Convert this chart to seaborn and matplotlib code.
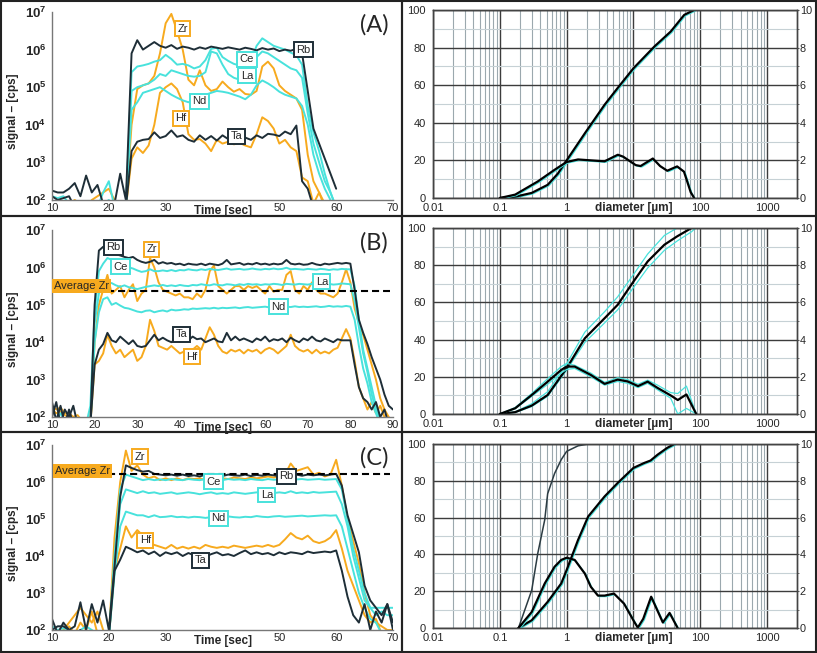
import numpy as np
import pandas as pd
import matplotlib
matplotlib.use("Agg")
import matplotlib.pyplot as plt
import matplotlib.ticker as mticker
import matplotlib.transforms as mtrans
from matplotlib.patches import Rectangle
import seaborn as sns

# ---------------- signal data (log10 of cps, 1 s steps) ----------------
a_time = list(range(10, 61))
a_rb = [2.25, 2.2, 2.2, 2.3, 2.45, 2.1, 2.65, 2.2, 2.4, 1.9, 1.8, 1.9, 2.7, 2.0,
        5.9, 6.25, 6.0, 6.1, 6.2, 6.1, 6.05, 6.12, 6.02, 6.08,
        6.05, 6.0, 6.06, 6.02, 6.08, 6.05, 6.02, 6.06, 6.03, 6.0,
        6.05, 6.02, 5.98, 6.04, 6.0, 6.03, 5.96, 6.0, 5.97, 6.02,
        5.9, 4.9, 3.9, 3.5, 3.1, 2.7, 2.3]
a_ta = [2.1, 2.0, 2.05, 2.1, 1.8, 1.8, 1.8, 1.8, 1.8, 1.8, 1.8, 1.8, 1.8, 1.8,
        3.3, 3.55, 3.6, 3.62, 3.8, 3.65, 3.7, 3.85, 3.68, 3.72,
        3.6, 3.55, 3.72, 3.6, 3.7, 3.58, 3.72, 3.62, 3.7, 3.65,
        3.66, 3.6, 3.72, 3.65, 3.76, 3.74, 3.7, 3.82, 3.75, 3.98,
        2.5, 2.3, 1.8, 1.8, 1.8, 1.8, 1.8]
a_zr = [1.8, 1.8, 1.8, 1.9, 2.0, 1.9, 1.8, 2.0, 2.1, 2.2, 2.3, 2.0, 1.8, 1.8,
        4.0, 4.95, 5.05, 5.1, 5.3, 5.9, 6.7, 6.95, 6.5, 6.0,
        5.2, 5.05, 5.45, 5.05, 4.9, 4.95, 5.15, 5.0, 4.88, 4.95,
        4.82, 4.8, 4.9, 5.55, 5.68, 5.5, 5.05, 4.9, 4.8, 4.7,
        4.4, 3.2, 2.5, 2.2, 1.9, 1.8, 1.8]
a_hf = [1.8, 1.8, 1.8, 1.8, 1.8, 1.8, 1.8, 1.8, 1.8, 1.8, 1.8, 1.8, 1.8, 1.8,
        3.1, 3.4, 3.25, 3.45, 4.0, 4.85, 5.0, 5.1, 4.95, 4.6,
        3.75, 3.6, 3.62, 3.5, 3.3, 3.6, 3.5, 3.55, 3.48, 3.52,
        3.45, 3.4, 3.75, 4.2, 4.1, 3.9, 3.5, 3.6, 3.4, 3.3,
        2.6, 2.5, 1.9, 2.2, 1.8, 1.8, 1.8]
a_ce = [2.1, 2.05, 2.1, 1.9, 1.8, 1.8, 1.9, 1.8, 1.8, 2.2, 2.5, 1.8, 1.8, 1.8,
        5.4, 5.55, 5.58, 5.62, 5.68, 5.72, 5.86, 5.75, 5.6, 5.62,
        5.58, 5.5, 5.55, 5.72, 6.02, 6.05, 5.8, 5.7, 5.62, 5.58,
        5.6, 5.7, 6.1, 6.3, 6.2, 6.1, 6.05, 6.0, 5.92, 5.85,
        5.6, 4.5, 3.8, 3.3, 2.7, 2.2, 1.8]
a_la = [1.9, 1.9, 1.85, 1.8, 1.8, 1.8, 1.8, 1.8, 1.8, 1.9, 2.0, 1.8, 1.8, 1.8,
        4.9, 5.0, 5.05, 5.1, 5.2, 5.35, 5.3, 5.45, 5.4, 5.35,
        5.3, 5.28, 5.3, 5.4, 5.95, 5.9, 5.6, 5.35, 5.25, 5.2,
        5.25, 5.4, 5.8, 5.95, 5.9, 5.8, 5.7, 5.6, 5.5, 5.45,
        5.25, 4.3, 3.5, 3.0, 2.5, 2.2, 1.8]
a_nd = [1.8, 1.8, 1.8, 1.8, 1.8, 1.8, 1.8, 1.8, 1.8, 1.8, 1.8, 1.8, 1.8, 1.8,
        4.4, 4.6, 4.85, 4.9, 4.95, 5.0, 4.9, 4.8, 4.72, 4.65,
        4.6, 4.66, 4.75, 4.8, 4.85, 4.9, 4.88, 4.85, 4.8, 4.75,
        4.68, 4.8, 5.05, 5.18, 5.1, 5.0, 4.88, 4.8, 4.75, 4.7,
        4.5, 4.0, 3.2, 2.7, 2.3, 2.0, 1.8]

b_time = list(range(10, 91))
b_rb = [2.4, 1.9, 2.3, 1.8, 2.2, 1.8, 1.8, 1.8, 1.8, 1.8,
        5.0, 6.45, 6.55, 6.45, 6.4, 6.35, 6.32, 6.28, 6.25, 6.28,
        6.2, 6.15, 6.12, 6.15, 6.2, 6.1, 6.14, 6.1, 6.12, 6.08,
        6.1, 6.06, 6.1, 6.08, 6.07, 6.1, 6.06, 6.1, 6.08, 6.06,
        6.1, 6.2, 6.08, 6.1, 6.12, 6.07, 6.1, 6.08, 6.12, 6.08,
        6.1, 6.07, 6.1, 6.08, 6.1, 6.2, 6.1, 6.08, 6.1, 6.07,
        6.08, 6.12, 6.08, 6.06, 6.1, 6.08, 6.1, 6.12, 6.1, 6.12,
        6.1, 5.4, 4.6, 4.25, 3.95, 3.6, 3.3, 3.0, 2.6, 2.3, 2.2]
b_ta = [2.0, 2.4, 1.8, 2.2, 2.0, 2.3, 1.8, 1.8, 1.8, 1.8,
        3.4, 3.8, 3.95, 4.25, 4.05, 4.0, 4.15, 4.05, 3.95, 4.05,
        3.9, 3.87, 3.9, 4.05, 4.2, 4.05, 4.12, 4.05, 4.0, 4.08,
        4.02, 4.1, 4.05, 4.15, 4.08, 4.1, 4.0, 4.05, 4.1, 4.02,
        4.0, 4.25, 4.05, 4.15, 4.05, 4.1, 4.05, 4.0, 4.1, 4.05,
        4.15, 4.02, 4.08, 4.05, 4.1, 4.0, 4.12, 4.05, 4.0, 4.1,
        4.05, 4.15, 4.05, 4.02, 4.1, 4.05, 4.0, 4.08, 4.05, 4.05,
        4.05, 3.4, 2.8, 2.5, 2.4, 2.2, 2.4, 2.0, 2.2, 1.8, 1.8]
b_zr = [2.3, 2.2, 2.25, 2.1, 2.1, 2.0, 2.05, 1.9, 1.9, 1.8,
        4.0, 5.0, 5.4, 5.8, 5.3, 5.4, 5.5, 5.2, 5.4, 5.55,
        5.1, 5.3, 5.4, 6.25, 6.0, 5.6, 5.4, 5.35, 5.3, 5.25,
        5.3, 5.2, 5.2, 5.15, 5.3, 5.2, 5.4, 5.9, 6.05, 5.5,
        5.4, 5.3, 5.4, 5.5, 5.5, 5.4, 5.5, 5.45, 5.5, 5.4,
        5.3, 5.5, 5.35, 5.4, 5.4, 5.8, 5.9, 5.4, 5.3, 5.5,
        5.4, 5.6, 5.4, 5.3, 5.3, 5.25, 5.2, 5.3, 5.6, 5.95,
        5.6, 4.9, 4.5, 4.2, 3.8, 3.4, 3.0, 2.5, 2.2, 2.0, 1.8]
b_hf = [2.2, 2.1, 2.15, 2.05, 2.0, 2.0, 1.95, 1.9, 1.85, 1.8,
        3.4, 3.5, 3.7, 4.2, 3.9, 3.7, 3.8, 3.6, 3.7, 3.8,
        3.5, 3.6, 3.9, 4.6, 4.3, 3.9, 3.85, 3.8, 3.9, 3.8,
        3.7, 3.75, 3.7, 3.8, 3.9, 3.8, 4.1, 4.4, 4.2, 3.9,
        3.75, 3.7, 3.8, 3.75, 3.8, 3.7, 3.8, 3.75, 3.8, 3.7,
        3.8, 3.85, 3.8, 3.7, 3.8, 3.9, 4.2, 3.9, 3.8, 3.75,
        3.8, 3.7, 3.8, 3.7, 3.75, 3.7, 3.8, 3.85, 4.1, 4.35,
        4.1, 3.5, 2.8, 2.5, 2.2, 2.4, 2.1, 2.3, 2.0, 1.8, 1.8]
b_ce = [1.8, 1.9, 2.1, 1.9, 2.0, 1.8, 1.8, 1.8, 1.8, 2.3,
        4.8, 5.9, 6.1, 6.25, 6.2, 6.15, 6.1, 6.02, 6.0, 5.97,
        5.92, 5.88, 5.9, 5.95, 5.9, 5.9, 5.92, 5.9, 5.93, 5.9,
        5.93, 5.92, 5.95, 5.93, 5.92, 5.95, 5.93, 5.96, 5.94, 5.93,
        5.95, 5.97, 5.94, 5.95, 5.96, 5.94, 5.95, 5.97, 5.95, 5.94,
        5.96, 5.95, 5.97, 5.95, 5.96, 5.99, 5.95, 5.96, 5.95, 5.94,
        5.96, 5.95, 5.94, 5.96, 5.95, 5.93, 5.95, 5.94, 5.96, 5.95,
        5.95, 5.5, 4.6, 3.8, 3.3, 2.8, 2.3, 2.0, 1.8, 1.8, 1.8]
b_la = [1.8, 1.8, 1.8, 1.8, 1.8, 1.8, 1.8, 1.8, 1.8, 1.8,
        4.5, 5.3, 5.5, 5.6, 5.58, 5.52, 5.48, 5.52, 5.47, 5.45,
        5.42, 5.45, 5.48, 5.5, 5.52, 5.5, 5.53, 5.5, 5.52, 5.5,
        5.53, 5.51, 5.5, 5.53, 5.52, 5.55, 5.53, 5.52, 5.55, 5.53,
        5.52, 5.55, 5.54, 5.52, 5.55, 5.53, 5.56, 5.54, 5.55, 5.53,
        5.55, 5.54, 5.56, 5.55, 5.53, 5.56, 5.55, 5.54, 5.56, 5.55,
        5.54, 5.56, 5.55, 5.53, 5.55, 5.56, 5.54, 5.55, 5.57, 5.56,
        5.55, 5.1, 4.4, 3.7, 3.2, 2.6, 2.2, 1.9, 1.8, 1.8, 1.8]
b_nd = [1.8, 1.8, 1.8, 1.8, 1.8, 1.8, 1.8, 1.8, 1.8, 1.8,
        4.0, 4.8, 5.15, 5.2, 5.0, 5.05, 4.98, 4.92, 4.9, 4.86,
        4.82, 4.8, 4.84, 4.85, 4.8, 4.83, 4.85, 4.82, 4.87, 4.85,
        4.86, 4.88, 4.87, 4.9, 4.89, 4.9, 4.91, 4.9, 4.92, 4.9,
        4.92, 4.91, 4.92, 4.93, 4.91, 4.93, 4.94, 4.92, 4.93, 4.94,
        4.95, 4.93, 4.94, 4.95, 4.93, 4.95, 4.94, 4.96, 4.94, 4.95,
        4.94, 4.95, 4.96, 4.94, 4.95, 4.97, 4.95, 4.96, 4.95, 4.97,
        4.95, 4.6, 3.9, 3.3, 2.9, 2.4, 2.1, 1.8, 1.8, 1.8, 1.8]

c_time = list(range(10, 71))
c_rb = [2.3, 1.9, 2.2, 2.0, 2.1, 2.75, 2.0, 2.7, 2.2, 2.8,
        2.0, 3.7, 5.6, 6.45, 6.38, 6.32, 6.28, 6.3, 6.22, 6.2,
        6.18, 6.2, 6.17, 6.2, 6.16, 6.18, 6.15, 6.2, 6.17, 6.19,
        6.16, 6.2, 6.18, 6.17, 6.2, 6.16, 6.19, 6.17, 6.2, 6.18,
        6.16, 6.2, 6.18, 6.2, 6.17, 6.2, 6.18, 6.2, 6.18, 6.2,
        6.22, 5.9, 5.1, 4.6, 4.1, 3.2, 2.8, 2.6, 2.4, 2.7, 2.2]
c_ta = [2.0, 2.1, 2.1, 2.0, 1.9, 2.0, 1.8, 1.8, 1.8, 1.8,
        1.8, 3.6, 3.9, 4.25, 4.18, 4.1, 4.15, 4.05, 4.12, 4.0,
        4.1, 4.05, 4.1, 4.0, 4.08, 4.02, 4.05, 3.98, 4.05, 4.1,
        4.02, 4.05, 4.0, 4.08, 4.15, 4.05, 4.1, 4.05, 4.08, 4.02,
        4.1, 4.05, 4.1, 4.08, 4.05, 4.12, 4.08, 4.1, 4.12, 4.1,
        4.15, 3.6, 2.9, 2.4, 2.2, 2.7, 2.0, 2.5, 2.2, 2.7, 2.0]
c_zr = [2.0, 1.9, 2.0, 2.2, 2.4, 2.6, 2.4, 2.2, 2.5, 2.0,
        1.8, 4.5, 6.0, 6.85, 6.3, 6.45, 6.2, 6.1, 6.15, 6.05,
        6.1, 6.05, 6.1, 6.05, 6.1, 6.08, 6.1, 6.05, 6.1, 6.08,
        6.1, 6.08, 6.12, 6.1, 6.08, 6.12, 6.1, 6.12, 6.15, 6.12,
        6.15, 6.2, 6.5, 6.3, 6.35, 6.4, 6.2, 6.25, 6.15, 6.2,
        6.6, 5.9, 5.0, 4.4, 3.8, 3.0, 2.4, 2.2, 2.1, 2.0, 2.0]
c_hf = [1.8, 1.8, 1.8, 2.1, 1.9, 2.2, 2.0, 2.5, 1.9, 1.8,
        1.8, 3.6, 4.2, 4.8, 4.5, 4.7, 4.55, 4.35, 4.3, 4.25,
        4.2, 4.3, 4.2, 4.25, 4.2, 4.25, 4.2, 4.3, 4.25, 4.22,
        4.25, 4.22, 4.28, 4.25, 4.22, 4.25, 4.28, 4.25, 4.3, 4.25,
        4.3, 4.45, 4.62, 4.5, 4.45, 4.55, 4.4, 4.35, 4.4, 4.5,
        4.7, 4.2, 3.6, 3.2, 2.8, 2.4, 2.2, 2.3, 1.9, 1.8, 1.8]
c_ce = [2.1, 2.0, 2.05, 2.0, 1.9, 2.0, 2.1, 2.0, 1.9, 1.8,
        1.8, 4.0, 5.8, 6.2, 6.15, 6.1, 6.05, 6.08, 6.05, 6.07,
        6.05, 6.08, 6.06, 6.05, 6.08, 6.06, 6.05, 6.08, 6.06, 6.07,
        6.05, 6.08, 6.06, 6.07, 6.05, 6.08, 6.06, 6.05, 6.08, 6.06,
        6.07, 6.08, 6.06, 6.07, 6.08, 6.06, 6.07, 6.08, 6.06, 6.07,
        6.08, 5.8, 5.0, 4.2, 3.6, 3.0, 2.6, 2.4, 2.5, 2.4, 2.4]
c_la = [1.9, 1.8, 1.8, 1.8, 1.8, 1.8, 1.8, 1.8, 1.8, 1.8,
        1.8, 3.8, 5.4, 5.8, 5.75, 5.7, 5.75, 5.7, 5.72, 5.68,
        5.7, 5.72, 5.68, 5.7, 5.72, 5.7, 5.67, 5.7, 5.72, 5.68,
        5.7, 5.68, 5.72, 5.7, 5.68, 5.7, 5.72, 5.7, 5.68, 5.7,
        5.72, 5.7, 5.75, 5.7, 5.72, 5.7, 5.73, 5.71, 5.72, 5.73,
        5.74, 5.4, 4.8, 4.0, 3.4, 2.8, 2.6, 2.6, 2.6, 2.6, 2.6]
c_nd = [1.8, 1.8, 1.8, 1.8, 1.8, 1.8, 1.8, 1.8, 1.8, 1.8,
        1.8, 3.5, 4.8, 5.2, 5.15, 5.1, 5.1, 5.05, 5.1, 5.05,
        5.06, 5.08, 5.05, 5.06, 5.04, 5.06, 5.05, 5.03, 5.05, 5.06,
        5.05, 5.07, 5.05, 5.04, 5.06, 5.05, 5.08, 5.06, 5.05, 5.07,
        5.08, 5.06, 5.07, 5.08, 5.09, 5.07, 5.08, 5.09, 5.1, 5.09,
        5.1, 4.8, 4.2, 3.6, 3.0, 2.6, 2.3, 2.2, 1.9, 1.8, 1.8]

# ---------------- particle size data ----------------
a_cum_d = [0.1, 0.17, 0.3, 0.52, 0.74, 1.0, 1.88, 3.7, 5.8, 10, 20.6, 36, 57.5, 81]
a_cum = [0, 0.7, 2.7, 7, 13, 20, 34.5, 49.6, 58.5, 69, 80.6, 88.5, 97.4, 100]
a_frq_d = [0.1, 0.17, 0.37, 0.66, 0.99, 1.48, 2.33, 3.69, 5.83, 7.0, 10.8, 12.8,
           19.5, 25, 32, 45, 57, 72, 81]
a_frq = [0, 0.18, 0.88, 1.5, 1.91, 2.05, 2.0, 1.95, 2.3, 2.2, 1.75, 1.7,
         2.1, 1.7, 1.45, 1.68, 1.4, 0.3, 0]

b_cum_d = [0.1, 0.17, 0.3, 0.52, 1.0, 1.87, 3.7, 5.8, 10, 16.3, 29, 45, 74, 85]
b_cum = [0, 1, 4.5, 10.2, 24.6, 40.7, 51.5, 58.7, 71.2, 82, 91, 95.5, 100, 100]
b_cum_hi = [0, 1.2, 5.5, 12, 27, 44, 55, 63, 75, 86, 96, 100, 100, 100]
b_cum_lo = [0, 0.8, 4, 9.5, 23.5, 38.5, 49, 56, 68, 78.5, 88, 93, 98, 100]
b_frq_d = [0.1, 0.17, 0.3, 0.52, 0.83, 1.0, 1.32, 2.3, 3.7, 5.8, 8.2, 11.7,
           16.3, 23, 36, 46, 62, 87]
b_frq = [0, 0.31, 1.02, 1.74, 2.37, 2.55, 2.55, 2.1, 1.62, 1.85, 1.75, 1.5,
         1.74, 1.4, 1.0, 0.75, 1.05, 0]
b_frq_hi = [0, 0.35, 1.1, 1.9, 2.55, 2.72, 2.62, 2.2, 1.7, 1.95, 1.85, 1.6,
            1.82, 1.55, 1.15, 1.1, 1.5, 0]
b_frq_lo = [0, 0.28, 0.95, 1.6, 2.2, 2.4, 2.45, 2.0, 1.55, 1.75, 1.65, 1.42,
            1.65, 1.3, 0.85, 0.0, 0.3, 0]

c_fine_d = [0.19, 0.3, 0.37, 0.47, 0.52, 0.66, 0.83, 1.0, 1.48, 2.1]
c_fine = [0, 20.5, 40.6, 58.8, 73, 84, 91.5, 96, 99, 100]
c_cum_d = [0.19, 0.3, 0.52, 0.83, 1.0, 1.48, 2.1, 3.7, 5.8, 10, 14.5, 18, 23, 32, 41]
c_cum = [0, 4.2, 14.2, 24.2, 31.5, 47.8, 60.6, 71.5, 78.8, 87, 89.7, 91, 94.2, 97.9, 100]
c_frq_d = [0.19, 0.3, 0.47, 0.66, 0.83, 1.0, 1.32, 1.87, 2.3, 2.94, 3.7, 5.1,
           7.2, 10.3, 11.6, 14.0, 18.4, 27.5, 34.7, 45.8]
c_frq = [0, 0.87, 2.42, 3.33, 3.7, 3.82, 3.7, 2.96, 2.24, 1.76, 1.76, 1.87,
         1.33, 0.33, 0.02, 0.5, 1.7, 0.3, 0.82, 0]

# ---------------- style ----------------
ORANGE = "#F7AA1E"
CYAN = "#48E2DC"
DARK = "#1E2E37"
EL_COLORS = {"Zr": ORANGE, "Hf": ORANGE, "Ce": CYAN, "La": CYAN, "Nd": CYAN,
             "Rb": DARK, "Ta": DARK}
DRAW_ORDER = ["Hf", "Zr", "Nd", "La", "Ce", "Ta", "Rb"]

sns.set_style("white")
plt.rcParams["font.family"] = ["Liberation Sans", "DejaVu Sans"]
plt.rcParams["mathtext.fontset"] = "custom"
plt.rcParams["mathtext.bf"] = "Liberation Sans:bold"
plt.rcParams["mathtext.rm"] = "Liberation Sans"

fig = plt.figure(figsize=(8.17, 6.53), dpi=100)
W, H = 817.0, 653.0


def px_axes(x0, x1, ytop, ybot):
    return fig.add_axes([x0 / W, (H - ybot) / H, (x1 - x0) / W, (ybot - ytop) / H])


def signal_panel(ax, t, series, xmax, tags, time_at, letter, avg=None):
    frame = pd.DataFrame({"t": t})
    for name, vals in series.items():
        frame[name] = 10.0 ** np.asarray(vals)
    long = frame.melt(id_vars="t", var_name="element", value_name="cps")
    sns.lineplot(data=long, x="t", y="cps", hue="element", hue_order=DRAW_ORDER,
                 palette=EL_COLORS, estimator=None, errorbar=None, lw=1.4,
                 legend=False, ax=ax)
    ax.set_yscale("log")
    ax.set_ylim(1e2, 1e7)
    ax.set_xlim(10, xmax)
    ticks = list(range(10, xmax + 1, 10))
    ax.set_xticks(ticks)
    ax.set_xticklabels(["" if v == time_at else str(v) for v in ticks])
    ax.yaxis.set_major_locator(mticker.LogLocator(base=10, numticks=10))
    ax.yaxis.set_minor_locator(mticker.LogLocator(base=10, subs=np.arange(2, 10), numticks=10))
    ax.yaxis.set_minor_formatter(mticker.NullFormatter())
    ax.yaxis.set_major_formatter(mticker.FuncFormatter(
        lambda v, p: r"$\mathbf{10^{%d}}$" % round(np.log10(v))))
    ax.tick_params(axis="y", which="major", direction="in", length=4, width=1,
                   labelsize=9.5, pad=4, color="#555555")
    ax.tick_params(axis="y", which="minor", direction="in", length=2.5, width=0.8,
                   color="#555555")
    ax.tick_params(axis="x", direction="out", length=2.5, width=1, labelsize=8,
                   pad=0, color="#555555")
    for s in ["top", "right"]:
        ax.spines[s].set_visible(False)
    for s in ["left", "bottom"]:
        ax.spines[s].set_color("#777777")
        ax.spines[s].set_linewidth(1.0)
    ax.set_xlabel("")
    ax.set_ylabel("signal \u2013 [cps]", fontsize=8.5, fontweight="bold")
    ax.yaxis.set_label_coords(-0.098, 0.47)
    ax.text(time_at, -0.058, "Time [sec]", transform=ax.get_xaxis_transform(),
            ha="center", va="center", fontsize=8.5, fontweight="bold")
    for name, (tx, ly) in tags.items():
        ax.text(tx, 10 ** ly, name, ha="center", va="center", fontsize=8, zorder=6,
                bbox=dict(boxstyle="square,pad=0.22", fc="white",
                          ec=EL_COLORS[name], lw=1.4))
    if avg is not None:
        level, start, lab_level = avg
        ax.hlines(10 ** level, start, xmax - 0.6, colors="black",
                  linestyles=(0, (3.4, 1.9)), lw=1.5, zorder=5)
        ax.text(10.5, 10 ** lab_level, "Average Zr", ha="left", va="center",
                fontsize=8, zorder=7,
                bbox=dict(boxstyle="square,pad=0.18", fc=ORANGE, ec=ORANGE, lw=0))
    ax.text(0.945, 0.93, letter, transform=ax.transAxes, ha="center", va="center",
            fontsize=17, family="Lato")


MINOR_X = [m * 10.0 ** k for k in range(-2, 3) for m in range(2, 10)]


def size_panel(ax, black_left, black_right, cyan_left, cyan_right, thin=None):
    ax2 = ax.twinx()
    nudge = mtrans.offset_copy(ax.transData, fig=fig, x=1.2, y=-1.0, units="dots")
    nudge2 = mtrans.offset_copy(ax2.transData, fig=fig, x=1.2, y=-1.0, units="dots")
    for d, v, shift in cyan_left:
        sns.lineplot(x=d, y=v, color=CYAN, lw=0.9, estimator=None, sort=False, ax=ax)
        if shift:
            ax.lines[-1].set_transform(nudge)
    for d, v, shift in cyan_right:
        sns.lineplot(x=d, y=v, color=CYAN, lw=0.9, estimator=None, sort=False, ax=ax2)
        if shift:
            ax2.lines[-1].set_transform(nudge2)
    if thin is not None:
        sns.lineplot(x=thin[0], y=thin[1], color="#2B3B42", lw=1.1,
                     estimator=None, sort=False, ax=ax)
    sns.lineplot(x=black_left[0], y=black_left[1], color="black", lw=1.6,
                 estimator=None, sort=False, ax=ax)
    sns.lineplot(x=black_right[0], y=black_right[1], color="black", lw=1.6,
                 estimator=None, sort=False, ax=ax2)
    for a in (ax, ax2):
        a.set_xscale("log")
        a.set_xlim(0.01, 2800)
    ax.set_ylim(0, 100)
    ax2.set_ylim(0, 10)
    ax.set_xticks([0.01, 0.1, 1, 10, 100, 1000])
    ax.set_xticklabels(["0.01", "0.1", "1", "", "100", "1000"])
    ax.xaxis.set_minor_locator(mticker.FixedLocator(MINOR_X))
    ax.xaxis.set_minor_formatter(mticker.NullFormatter())
    ax.yaxis.set_major_locator(mticker.MultipleLocator(20))
    ax.yaxis.set_minor_locator(mticker.MultipleLocator(10))
    ax2.yaxis.set_major_locator(mticker.MultipleLocator(2))
    ax2.yaxis.set_minor_locator(mticker.MultipleLocator(1))
    ax.grid(which="major", axis="x", color="#3C3C3C", lw=1.0)
    ax.grid(which="minor", axis="x", color="#9BA8AE", lw=0.8)
    ax.grid(which="major", axis="y", color="#3C3C3C", lw=1.0)
    ax.grid(which="minor", axis="y", color="#C6D1D5", lw=0.8)
    ax.set_axisbelow(True)
    ax.tick_params(which="both", length=0, labelsize=8, pad=5)
    ax.tick_params(axis="x", pad=3.6)
    ax2.tick_params(which="major", direction="out", length=1.5, labelsize=7.8, pad=0.5,
                    color="#555555")
    ax2.tick_params(which="minor", direction="out", length=1.5, color="#555555")
    ax2.grid(False)
    for a in (ax, ax2):
        for s in a.spines.values():
            s.set_color("#444444")
            s.set_linewidth(1.0)
        a.set_xlabel("")
        a.set_ylabel("")
    ax.text(10, -0.052, "diameter [\u00b5m]", transform=ax.get_xaxis_transform(),
            ha="center", va="center", fontsize=8.5, fontweight="bold")


# ---------------- row A ----------------
axA = px_axes(52, 393, 12, 200)
signal_panel(axA, a_time,
             {"Zr": a_zr, "Hf": a_hf, "Ce": a_ce, "La": a_la, "Nd": a_nd,
              "Rb": a_rb, "Ta": a_ta},
             70,
             {"Zr": (33.0, 6.55), "Rb": (54.2, 6.0), "Ce": (44.3, 5.74),
              "La": (44.3, 5.31), "Nd": (35.9, 4.63), "Hf": (32.7, 4.17),
              "Ta": (42.5, 3.70)},
             40, "(A)")
axA2 = px_axes(433, 797, 10, 198)
size_panel(axA2, (a_cum_d, a_cum), (a_frq_d, a_frq),
           [(a_cum_d, a_cum, True)], [(a_frq_d, a_frq, True)])

# ---------------- row B ----------------
axB = px_axes(52, 393, 230, 417)
signal_panel(axB, b_time,
             {"Zr": b_zr, "Hf": b_hf, "Ce": b_ce, "La": b_la, "Nd": b_nd,
              "Rb": b_rb, "Ta": b_ta},
             90,
             {"Rb": (24.4, 6.54), "Zr": (33.4, 6.48), "Ce": (26.0, 6.02),
              "La": (73.3, 5.62), "Nd": (63.1, 4.95), "Ta": (40.4, 4.21),
              "Hf": (42.8, 3.61)},
             50, "(B)", avg=(5.37, 22.9, 5.5))
axB2 = px_axes(433, 797, 228, 414)
size_panel(axB2, (b_cum_d, b_cum), (b_frq_d, b_frq),
           [(b_cum_d, b_cum_hi, False), (b_cum_d, b_cum_lo, False)],
           [(b_frq_d, b_frq_hi, False), (b_frq_d, b_frq_lo, False)])

# ---------------- row C ----------------
axC = px_axes(52, 393, 445, 630)
signal_panel(axC, c_time,
             {"Zr": c_zr, "Hf": c_hf, "Ce": c_ce, "La": c_la, "Nd": c_nd,
              "Rb": c_rb, "Ta": c_ta},
             70,
             {"Zr": (25.5, 6.68), "Ce": (38.4, 6.01), "Rb": (51.3, 6.16),
              "La": (47.8, 5.65), "Nd": (39.3, 5.02), "Hf": (26.4, 4.43),
              "Ta": (36.1, 3.89)},
             40, "(C)", avg=(6.21, 19.9, 6.3))
axC2 = px_axes(433, 797, 444, 628)
size_panel(axC2, (c_cum_d, c_cum), (c_frq_d, c_frq),
           [(c_cum_d, c_cum, True)], [(c_frq_d, c_frq, True)],
           thin=(c_fine_d, c_fine))

# ---------------- panel frames ----------------
for y0, y1 in [(1, 216), (216, 432), (432, 652)]:
    for x0, x1 in [(1, 402), (402, 816)]:
        fig.add_artist(Rectangle((x0 / W, (H - y1) / H), (x1 - x0) / W, (y1 - y0) / H,
                                 transform=fig.transFigure, fill=False,
                                 ec="#222222", lw=1.5))

fig.savefig("out.png", dpi=100)
